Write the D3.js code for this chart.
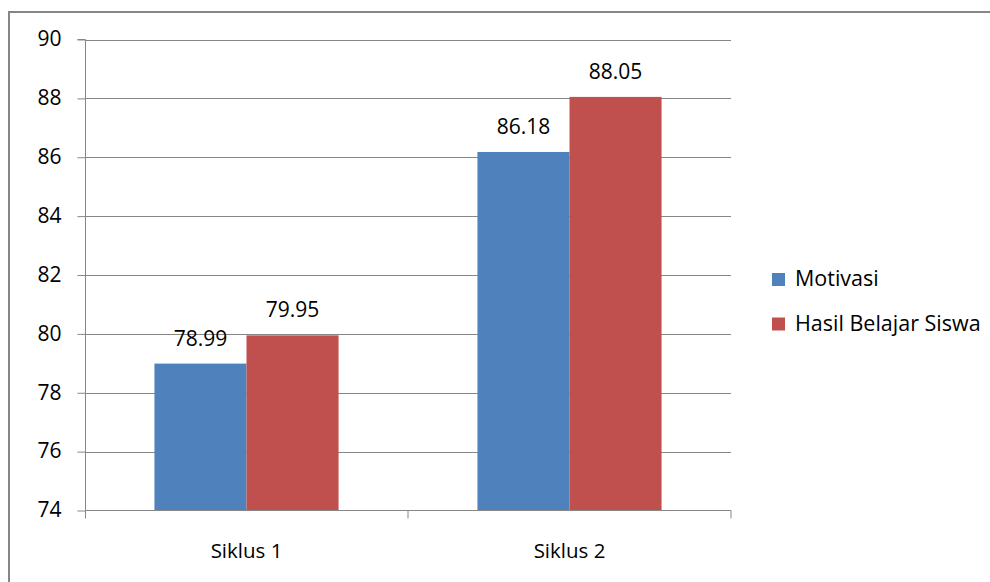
<!DOCTYPE html>
<html><head><meta charset="utf-8">
<script src="https://cdn.jsdelivr.net/npm/d3@7"></script>
<style>html,body{margin:0;padding:0;background:#fff;overflow:hidden}</style>
</head><body>
<svg id="c" width="990" height="582"></svg>
<script>
const categories = ["Siklus 1", "Siklus 2"];
const seriesNames = ["Motivasi", "Hasil Belajar Siswa"];
const motivasi = [78.99, 86.18];
const hasilBelajar = [79.95, 88.05];
const yTicks = [74, 76, 78, 80, 82, 84, 86, 88, 90];
const colors = ["#4F81BD", "#C0504D"];

(function () {
const svg = d3.select("#c");
const font = "'Open Sans', 'DejaVu Sans', sans-serif";
const pLeft = 85, pRight = 731, pTop = 39.5, pBottom = 510.5;

// frame
svg.append("rect").attr("x", 9).attr("y", 12).attr("width", 1000).attr("height", 600)
  .attr("fill", "none").attr("stroke", "#868686").attr("stroke-width", 2);

const x = d3.scaleBand().domain(categories).range([pLeft, pRight]).paddingInner(0.43).paddingOuter(0.215);
const x1 = d3.scaleBand().domain(seriesNames).range([0, x.bandwidth()]);
const y = d3.scaleLinear().domain([74, 90]).range([pBottom, pTop]);

// gridlines
svg.append("g").selectAll("line").data(yTicks.filter(t => t !== 74)).join("line")
  .attr("x1", pLeft).attr("x2", pRight).attr("y1", d => Math.round(y(d)) + 0.5).attr("y2", d => Math.round(y(d)) + 0.5)
  .attr("stroke", "#868686").attr("stroke-width", 1);

// y axis
const yAxis = d3.axisLeft(y).tickValues(yTicks).tickSize(8).tickPadding(16).tickFormat(d3.format("d"));
const gy = svg.append("g").attr("transform", `translate(${pLeft + 0.5},0)`).call(yAxis);
gy.select(".domain").attr("stroke", "#868686").attr("d", `M-8,${pTop}H0V${pBottom + 8}`);
gy.selectAll(".tick line").attr("stroke", "#868686");
gy.selectAll(".tick text").attr("font-family", font).attr("font-size", 21).attr("fill", "#000").attr("dy", "0.3em");

// data
const series = [motivasi, hasilBelajar];
const data = [];
categories.forEach((c, i) => seriesNames.forEach((s, j) => data.push({c, s, v: series[j][i], j})));

svg.append("g").selectAll("rect").data(data).join("rect")
  .attr("x", d => x(d.c) + x1(d.s)).attr("width", x1.bandwidth())
  .attr("y", d => y(d.v)).attr("height", d => y(74) - y(d.v))
  .attr("fill", d => colors[d.j]);

svg.append("g").selectAll("text").data(data).join("text")
  .attr("x", d => x(d.c) + x1(d.s) + x1.bandwidth() / 2)
  .attr("y", d => y(d.v) - 18)
  .attr("text-anchor", "middle").attr("font-family", font).attr("font-size", 21).attr("fill", "#000")
  .text(d => d.v.toFixed(2));

// x axis
const xAxis = d3.axisBottom(x).tickSize(0).tickPadding(0);
const gx = svg.append("g").attr("transform", `translate(0,${pBottom})`).call(xAxis);
gx.select(".domain").attr("stroke", "#868686").attr("d", `M${pLeft},0H${pRight}V8`);
gx.selectAll(".tick text").attr("font-family", font).attr("font-size", 20.5).attr("fill", "#000").attr("dy", 0).attr("y", 47);
const step = x.step();
svg.append("g").selectAll("line").data([pLeft + step]).join("line")
  .attr("x1", d => d).attr("x2", d => d).attr("y1", pBottom).attr("y2", pBottom + 8)
  .attr("stroke", "#868686");

// legend
const lg = svg.append("g").selectAll("g").data(seriesNames).join("g")
  .attr("transform", (d, i) => `translate(772,${273 + i * 44.5})`);
lg.append("rect").attr("width", 13).attr("height", 13).attr("fill", (d, i) => colors[i]);
lg.append("text").attr("x", 23).attr("y", 13).attr("font-family", font).attr("font-size", 21.5).attr("fill", "#000").text(d => d);
})();
</script>
</body></html>
